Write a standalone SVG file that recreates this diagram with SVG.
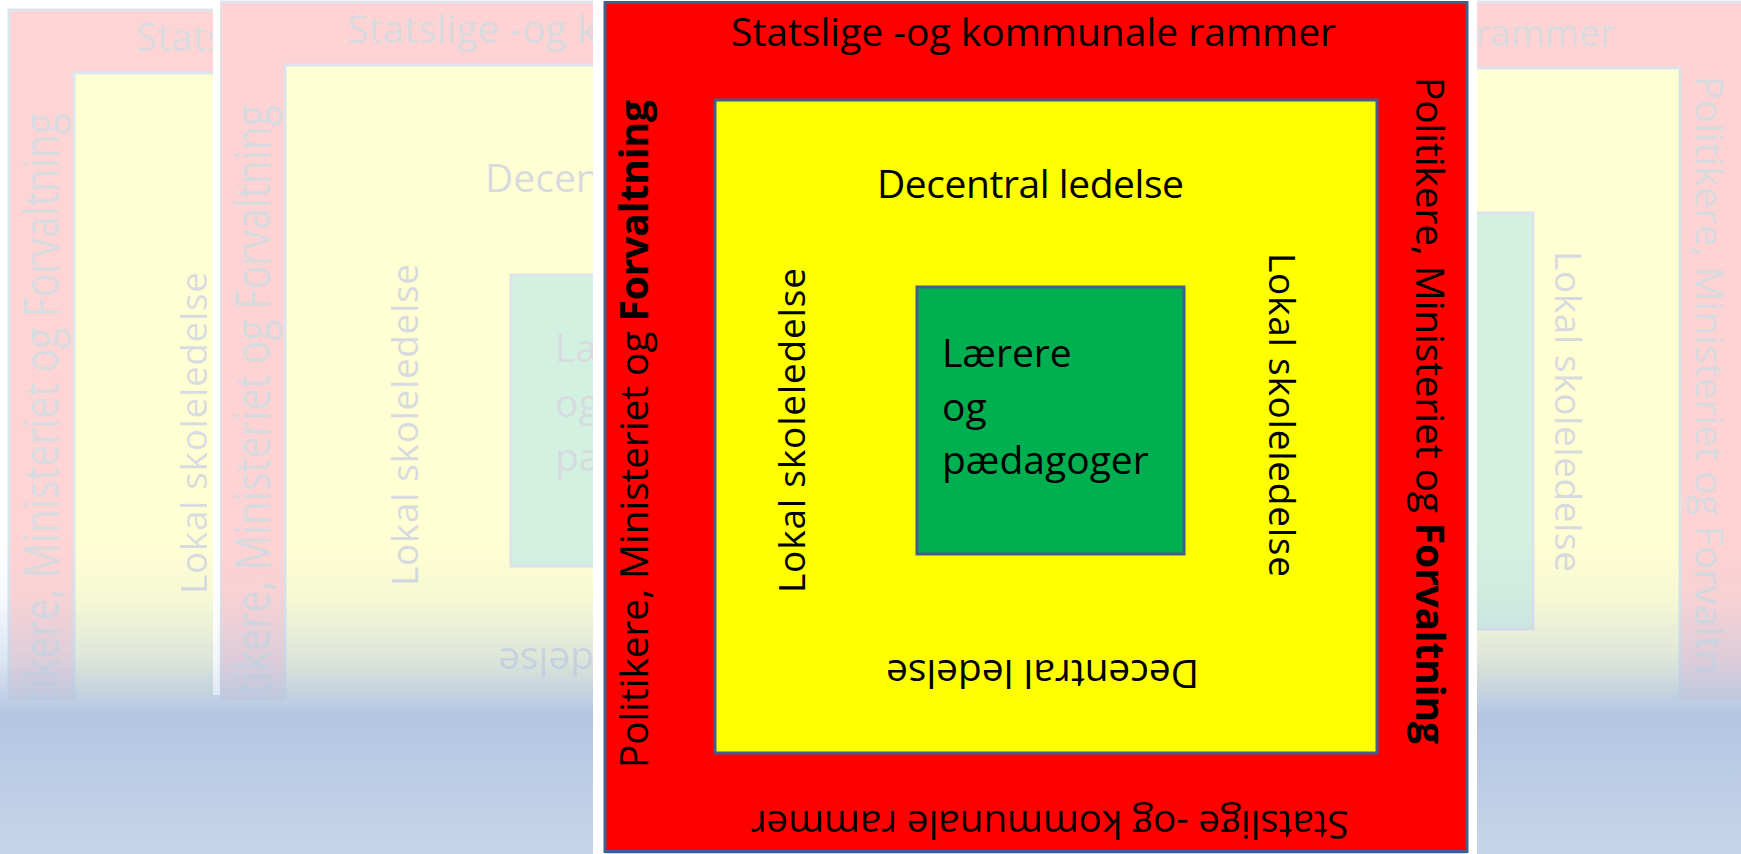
<svg xmlns="http://www.w3.org/2000/svg" width="1741" height="854" viewBox="0 0 1741 854">
<style>
  text { font-family: "Open Sans", "Liberation Sans", sans-serif; font-size: 39px; fill: #000000; }
  .b { font-weight: bold; }
  .frame { stroke: #3f5f8c; stroke-width: 3; }
  .red { fill: #ff0000; }
  .yel { fill: #ffff00; }
  .grn { fill: #00b050; }
  .ghost { opacity: 0.17; }
  .gt text { fill: #1c2a45; }
  .sm { font-size: 37px; }
</style>
<defs>
  <linearGradient id="floor" x1="0" y1="540" x2="0" y2="854" gradientUnits="userSpaceOnUse">
    <stop offset="0" stop-color="#b3c6e1" stop-opacity="0"/>
    <stop offset="0.19" stop-color="#b3c6e1" stop-opacity="0.12"/>
    <stop offset="0.38" stop-color="#b3c6e1" stop-opacity="0.45"/>
    <stop offset="0.51" stop-color="#b3c6e1" stop-opacity="0.85"/>
    <stop offset="0.56" stop-color="#b3c6e1" stop-opacity="1"/>
    <stop offset="1" stop-color="#c6d5ea" stop-opacity="1"/>
  </linearGradient>
  <linearGradient id="gapfade" x1="0" y1="0" x2="0" y2="695" gradientUnits="userSpaceOnUse">
    <stop offset="0.8" stop-color="#ffffff" stop-opacity="1"/>
    <stop offset="1" stop-color="#ffffff" stop-opacity="0.5"/>
  </linearGradient>
  <clipPath id="clipA"><rect x="0" y="0" width="213" height="700"/></clipPath>
  <clipPath id="clipB"><rect x="213" y="0" width="380" height="700"/></clipPath>
  <clipPath id="clipC"><rect x="1477" y="0" width="264" height="700"/></clipPath>
  <g id="panelB" class="gt">
    <rect class="red frame" x="220" y="2" width="400" height="720"/>
    <rect class="yel frame" x="285" y="65" width="340" height="680"/>
    <rect class="grn frame" x="511" y="275" width="120" height="291"/>
    <text x="347" y="43">Statslige -og k</text>
    <text x="485" y="192">Decent</text>
    <text transform="translate(270,762) rotate(-90) scale(1,1.25)" textLength="657">Politikere, Ministeriet og Forvaltning</text>
    <text class="sm" transform="translate(418,586) rotate(-90)" textLength="322">Lokal skoleledelse</text>
    <text x="555" y="362">Lær</text>
    <text x="555" y="417">og</text>
    <text x="555" y="471">pæd</text>
    <text transform="translate(498,648) rotate(180)" text-anchor="end">Decentral ledelse</text>
  </g>
</defs>

<rect x="0" y="0" width="1741" height="854" fill="#ffffff"/>

<g id="background-slides">
  <g class="ghost" clip-path="url(#clipA)">
    <use href="#panelB" transform="translate(-211,8)"/>
  </g>
  <g class="ghost" clip-path="url(#clipB)">
    <use href="#panelB"/>
  </g>
  <g class="ghost gt" clip-path="url(#clipC)">
    <rect class="red frame" x="1390" y="2" width="400" height="720"/>
    <rect class="yel frame" x="1390" y="68" width="290" height="680"/>
    <rect class="grn frame" x="1390" y="213" width="143" height="416"/>
    <text class="sm" x="1615" y="46" text-anchor="end">rammer</text>
    <text class="sm" transform="translate(1555,251) rotate(90)" textLength="321">Lokal skoleledelse</text>
    <text transform="translate(1695,76) rotate(90)" textLength="598">Politikere, Ministeriet og Forvaltn</text>
  </g>
  <rect x="0" y="540" width="1741" height="314" fill="url(#floor)"/>
  <rect x="213" y="0" width="7" height="695" fill="url(#gapfade)"/>
  <rect x="593" y="0" width="12" height="854" fill="#ffffff"/>
  <rect x="1467" y="0" width="10" height="854" fill="#ffffff"/>
</g>

<g id="outer">
  <rect class="red frame" x="605" y="2.5" width="862" height="849"/>
  <text x="1033.5" y="46" text-anchor="middle" textLength="605">Statslige -og kommunale rammer</text>
  <text transform="translate(1050,811) rotate(180)" text-anchor="middle" textLength="598">Statslige -og kommunale rammer</text>
  <text transform="translate(648,768) rotate(-90)" textLength="668">Politikere, Ministeriet og <tspan class="b">Forvaltning</tspan></text>
  <text transform="translate(1416,77) rotate(90)" textLength="667">Politikere, Ministeriet og <tspan class="b">Forvaltning</tspan></text>
</g>

<g id="middle">
  <rect class="yel frame" x="715" y="100" width="662" height="653"/>
  <text x="1030.5" y="198" text-anchor="middle" textLength="307">Decentral ledelse</text>
  <text transform="translate(1042.5,660) rotate(180)" text-anchor="middle" textLength="313">Decentral ledelse</text>
  <text class="sm" transform="translate(805,593) rotate(-90)" textLength="325">Lokal skoleledelse</text>
  <text class="sm" transform="translate(1269,253) rotate(90)" textLength="324">Lokal skoleledelse</text>
</g>

<g id="inner">
  <rect class="grn frame" x="917" y="287" width="267" height="267"/>
  <text x="942" y="367">Lærere</text>
  <text x="942" y="421">og</text>
  <text x="942" y="474">pædagoger</text>
</g>
</svg>
